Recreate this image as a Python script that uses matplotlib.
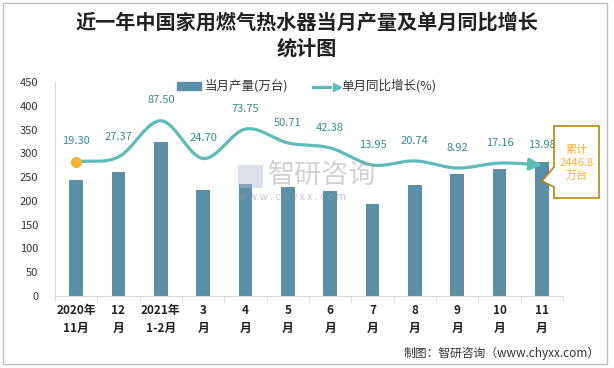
import numpy as np
import matplotlib
matplotlib.use('Agg')
import matplotlib.pyplot as plt
from matplotlib.patches import Rectangle, Polygon
from matplotlib.lines import Line2D

plt.rcParams['font.family'] = ['Noto Sans CJK SC', 'DejaVu Sans']

# data
categories = ['2020年\n11月', '12\n月', '2021年\n1-2月', '3\n月', '4\n月', '5\n月',
              '6\n月', '7\n月', '8\n月', '9\n月', '10\n月', '11\n月']
output = [244, 261, 324, 223, 235, 230, 221, 193, 233, 256, 267, 282]
growth = [19.30, 27.37, 87.50, 24.70, 73.75, 50.71, 42.38, 13.95, 20.74, 8.92, 17.16, 13.98]
total_label = '累计\n2446.8\n万台'

BAR = '#5b8fa6'
LINE = '#5dbcb6'
LABEL = '#3b8a94'
GOLD = '#b8860b'
ORANGE = '#f5b331'

W, H = 614, 368


def px(x, y):
    """pixel (top-left origin) -> figure fraction"""
    return x / W, 1 - y / H


def smooth(xs, ys, n=30):
    """Catmull-Rom curve through the points (like Excel smoothed line)"""
    xs = np.asarray(xs, float)
    ys = np.asarray(ys, float)
    px_ = np.concatenate([[2 * xs[0] - xs[1]], xs, [2 * xs[-1] - xs[-2]]])
    py_ = np.concatenate([[2 * ys[0] - ys[1]], ys, [2 * ys[-1] - ys[-2]]])
    outx, outy = [], []
    t = np.linspace(0, 1, n, endpoint=False)
    for i in range(1, len(px_) - 2):
        for arr, out in ((px_, outx), (py_, outy)):
            p0, p1, p2, p3 = arr[i - 1], arr[i], arr[i + 1], arr[i + 2]
            out.extend(0.5 * ((2 * p1) + (-p0 + p2) * t +
                              (2 * p0 - 5 * p1 + 4 * p2 - p3) * t ** 2 +
                              (-p0 + 3 * p1 - 3 * p2 + p3) * t ** 3))
    outx.append(xs[-1])
    outy.append(ys[-1])
    return np.array(outx), np.array(outy)


fig = plt.figure(figsize=(W / 100, H / 100), dpi=100)
fig.patch.set_facecolor('white')

l, b = px(55, 296)
r, t = px(563, 82)
ax = fig.add_axes([l, b, r - l, t - b])
x = np.arange(len(categories))
ax.bar(x, output, width=0.33, color=BAR, zorder=2)
ax.set_xlim(-0.5, len(categories) - 0.5)
ax.set_ylim(0, 450)
ax.set_yticks(range(0, 451, 50))
ax.tick_params(axis='y', length=0, labelsize=8, colors='#333333', pad=12)
ax.set_xticks(x)
ax.set_xticklabels(categories, fontsize=8.5, fontweight='bold', color='#222222',
                   linespacing=1.5)
ax.tick_params(axis='x', length=0, pad=6)
ax.set_xticks(np.arange(-0.5, len(categories), 1), minor=True)
ax.tick_params(axis='x', which='minor', length=4, color='#d9d9d9')
for s in ['top', 'right']:
    ax.spines[s].set_visible(False)
ax.spines['left'].set_color('#d9d9d9')
ax.spines['bottom'].set_color('#d9d9d9')

# growth line on hidden secondary axis
ax2 = ax.twinx()
ax2.set_ylim(-204, 152)
ax2.axis('off')
cx, cy = smooth(x, growth)
ax2.plot(cx[:-6], cy[:-6], color=LINE, lw=2.3, solid_capstyle='round', zorder=3)
ax2.annotate('', xy=(cx[-1], cy[-1]), xytext=(cx[-8], cy[-8]),
             arrowprops=dict(arrowstyle='-|>,head_length=0.7,head_width=0.35',
                             color=LINE, lw=2.3, shrinkA=0, shrinkB=0))
ax2.plot(x[0], growth[0], 'o', color=ORANGE, ms=7, zorder=4)
for xi, g in zip(x, growth):
    ax2.annotate(f'{g:.2f}', (xi, g), xytext=(0, 11), textcoords='offset points',
                 ha='center', va='bottom', fontsize=8, color=LABEL)

# title
fig.text(*px(307, 22), '近一年中国家用燃气热水器当月产量及单月同比增长',
         ha='center', va='center', fontsize=14.5, fontweight='bold', color='#222222')
fig.text(*px(307, 48), '统计图', ha='center', va='center', fontsize=14.5,
         fontweight='bold', color='#222222')

# legend
fig.patches.append(Rectangle(px(177, 90), 24 / W, 8 / H, color=BAR,
                             transform=fig.transFigure))
fig.text(*px(205, 86), '当月产量(万台)', ha='left', va='center', fontsize=9,
         color='#333333')
x0, y0 = px(313, 86.5)
x1, _ = px(337, 86.5)
fig.add_artist(Line2D([x0, x1 - 0.012], [y0, y0], color=LINE, lw=2.3,
                      transform=fig.transFigure))
fig.add_artist(Line2D([x1], [y0], marker='>', color=LINE, ms=6,
                      transform=fig.transFigure))
fig.text(*px(341, 86), '单月同比增长(%)', ha='left', va='center', fontsize=9,
         color='#333333')

# watermark
fig.text(*px(268, 175), '智研咨询', ha='left', va='center', fontsize=19.5,
         color='#9a9a9a', alpha=0.45)
fig.text(*px(238, 197), 'w w w . c h y x x . c o m', ha='left', va='center',
         fontsize=7.5, color='#9a9a9a', alpha=0.55)
fig.patches.append(Rectangle(px(238, 188), 25 / W, 23 / H, facecolor='#b0bcd0',
                             alpha=0.45, transform=fig.transFigure))

# callout box for the cumulative total
pts = [px(554, 126), px(599, 126), px(599, 198), px(554, 198), px(554, 187),
       px(542, 181), px(554, 167)]
fig.patches.append(Polygon(pts, closed=True, facecolor='white', edgecolor=GOLD,
                           lw=1.2, transform=fig.transFigure, zorder=5))
fig.text(*px(576.5, 163), total_label, ha='center', va='center', fontsize=8,
         color=ORANGE, linespacing=1.35, zorder=6)

# footer
fig.text(*px(600, 353), '制图：智研咨询（www.chyxx.com）', ha='right', va='center',
         fontsize=8.5, color='#333333')

# outer frame
fig.patches.append(Rectangle(px(3, 364), 604 / W, 361 / H, fill=False,
                             edgecolor='#bfbfbf', lw=1, transform=fig.transFigure))

fig.savefig('out.png', dpi=100)
